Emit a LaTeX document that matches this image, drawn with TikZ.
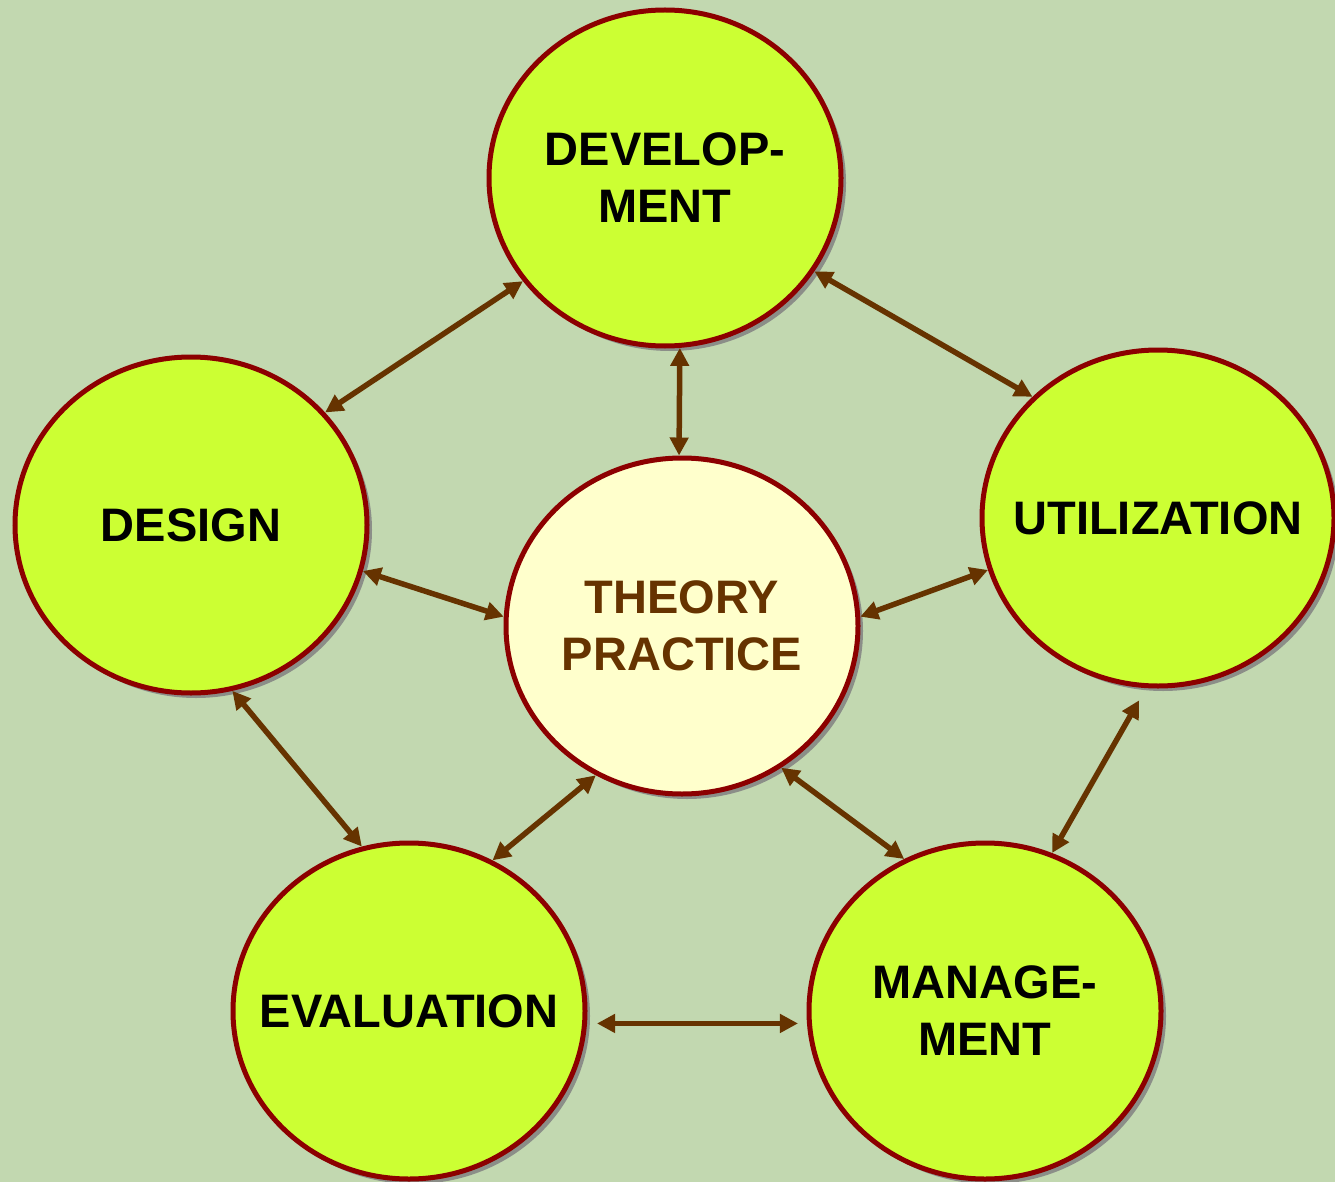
\documentclass[tikz,border=0pt]{standalone}
\usepackage{fontspec}
\setmainfont{Liberation Sans}
\usetikzlibrary{shapes.geometric,arrows.meta,shadows}
\definecolor{bgc}{RGB}{194,216,176}
\definecolor{lime}{RGB}{204,255,51}
\definecolor{cream}{RGB}{255,255,204}
\definecolor{rim}{RGB}{140,0,0}
\definecolor{brn}{RGB}{102,51,0}
\definecolor{shd}{RGB}{130,130,130}
\tikzset{
  bubble/.style={ellipse, minimum width=352pt, minimum height=336pt, inner sep=0pt,
    draw=rim, line width=5pt, fill=lime, align=center,
    font=\fontsize{47}{57}\selectfont\bfseries,
    drop shadow={shadow xshift=5pt, shadow yshift=-5pt, fill=shd, opacity=0.85}},
  core/.style={bubble, fill=cream, text=brn},
  link/.style={draw=brn, line width=5.5pt, {Triangle[length=18pt,width=18pt]}-{Triangle[length=18pt,width=18pt]}}
}
\begin{document}
\begin{tikzpicture}[x=1pt,y=-1pt]
\fill[bgc] (0,0) rectangle (1335,1182);
\useasboundingbox (0,0) rectangle (1335,1182);
\node[bubble] (dev) at (665,178) {\makebox[0pt]{DEVELOP-}\\\makebox[0pt]{MENT}};
\node[bubble] (des) at (191,525) {\makebox[0pt]{DESIGN}};
\node[bubble] (uti) at (1158,518) {\makebox[0pt]{UTILIZATION}};
\node[core] (the) at (682,626) {\makebox[0pt]{THEORY}\\\makebox[0pt]{PRACTICE}};
\node[bubble] (eva) at (409,1011) {\makebox[0pt]{EVALUATION}};
\node[bubble] (man) at (985,1011) {\makebox[0pt]{MANAGE-}\\\makebox[0pt]{MENT}};
\draw[link] (dev.216) -- (des.40);
\draw[link] (dev.328) -- (uti.136);
\draw[link] (dev.275) -- (the.91);
\draw[link] (des.345) -- (the.177);
\draw[link] (uti.197) -- (the.3);
\draw[link] (des.284) -- (eva.106);
\draw[link] (the.240) -- (eva.61);
\draw[link] (the.305) -- (man.118);
\draw[link, shorten <=14pt] (uti.266) -- (man.67);
\draw[link, shorten <=10pt, shorten >=9pt] (eva.356) -- (man.184);
\end{tikzpicture}
\end{document}
